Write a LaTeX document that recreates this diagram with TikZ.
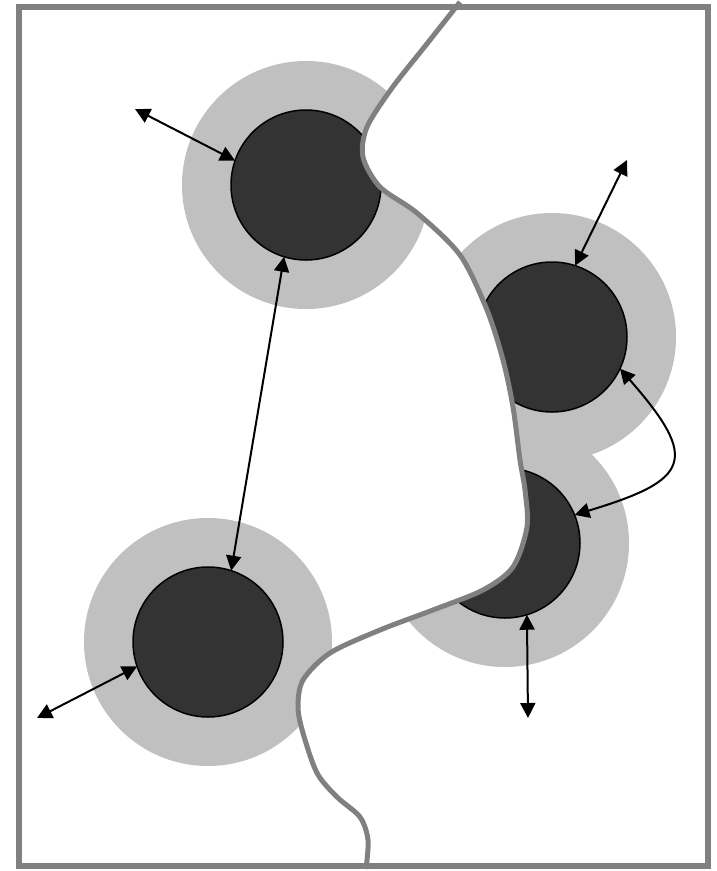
\documentclass[tikz,border=0pt]{standalone}
\usetikzlibrary{arrows.meta}
\definecolor{halo}{HTML}{C0C0C0}
\definecolor{core}{HTML}{333333}
\definecolor{line}{HTML}{808080}
\tikzset{
  halodisk/.style={circle, fill=halo, minimum size=248pt, inner sep=0pt, outer sep=0pt},
  coredisk/.style={circle, fill=core, draw=black, line width=1.5pt, minimum size=150pt, inner sep=0pt, outer sep=0pt},
  link/.style={line width=2pt, {Triangle[length=15pt,width=15pt]}-{Triangle[length=15pt,width=15pt]}},
  river/.style={draw=line, line width=5pt},
  frame/.style={draw=line, line width=6pt}
}
\def\riverpts{(460,2) (426,45) (392,88) (367,127) (363,157) (380,187) (417,213) (460,255) (487,310) (503,360) (513,407) (520,460) (525,490) (527,527) (513,567) (483,590) (433,610) (380,630) (330,653) (303,680) (298,707) (303,733) (317,773) (337,797) (360,817) (368,840) (366,869)}
\begin{document}
\begin{tikzpicture}[x=1pt,y=-1pt]
\useasboundingbox (0,0) rectangle (717,871);
\fill[white] (0,0) rectangle (717,871);
% left side of the river
\begin{scope}
  \clip plot[smooth,tension=0.5] coordinates {\riverpts} -- (0,871) -- (0,0) -- cycle;
  \node[halodisk] (h1) at (306,185) {};
  \node[halodisk] (h2) at (208,642) {};
  \node[coredisk] (c1) at (306,185) {};
  \node[coredisk] (c2) at (208,642) {};
\end{scope}
% right side of the river
\begin{scope}
  \clip plot[smooth,tension=0.5] coordinates {\riverpts} -- (717,871) -- (717,0) -- cycle;
  \node[halodisk] (h3) at (552,337) {};
  \node[halodisk] (h4) at (505,543) {};
  \node[coredisk] (c3) at (552,337) {};
  \node[coredisk] (c4) at (505,543) {};
\end{scope}
% river
\draw[river] plot[smooth,tension=0.5] coordinates {\riverpts};
% frame
\draw[frame] (19,7) rectangle (708,866);
% free ends
\coordinate (p1) at (135,109);
\coordinate (p2) at (627,160);
\coordinate (p5) at (528,718);
\coordinate (p6) at (37,718);
% arrows
\draw[link] (p1) -- (c1.161);
\draw[link] (c1.-107) -- (c2.72.5);
\draw[link] (p6) -- (c2.199);
\draw[link] (p2) -- (c3.72);
\draw[link] (c3.-25) .. controls (700,460) and (690,480) .. (c4.22);
\draw[link] (c4.-73) -- (p5);
\end{tikzpicture}
\end{document}
